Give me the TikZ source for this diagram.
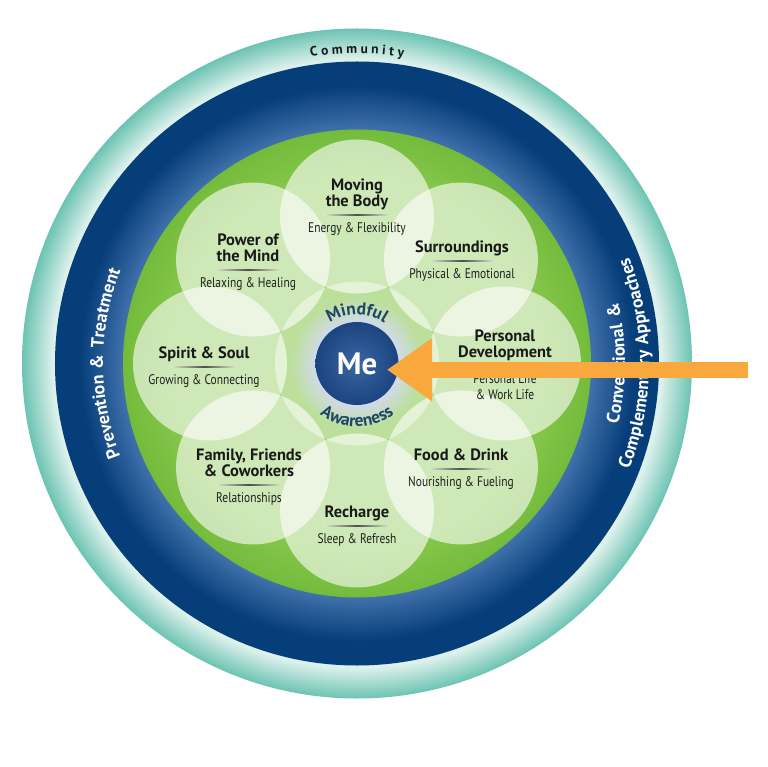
\documentclass[tikz,border=0pt]{standalone}
\usepackage{fontspec}
\setmainfont{PT Sans}
\newfontfamily\subfont[FakeStretch=0.82]{PT Sans}
\usetikzlibrary{arrows.meta,decorations.text,fadings}
\definecolor{tealout}{HTML}{6CC3B3}
\definecolor{tealin}{HTML}{DDF1EC}
\definecolor{blueout}{HTML}{063E7A}
\definecolor{bluein}{HTML}{3F70AA}
\definecolor{greenin}{HTML}{86C74B}
\definecolor{greenout}{HTML}{74BB3C}
\definecolor{mein}{HTML}{3A66A2}
\definecolor{meout}{HTML}{1B4480}
\definecolor{haloc}{HTML}{D3DAEE}
\definecolor{mindc}{HTML}{1E4764}
\definecolor{rulebg}{HTML}{DAEBC8}
\definecolor{arrc}{HTML}{F8A83C}
\pgfdeclareradialshading{tealring}{\pgfpointorigin}{color(0bp)=(tealin); color(22.7bp)=(tealin); color(25bp)=(tealout); color(50bp)=(tealout)}
\pgfdeclareradialshading{bluering}{\pgfpointorigin}{color(0bp)=(bluein); color(19.4bp)=(bluein); color(23bp)=(blueout); color(50bp)=(blueout)}
\pgfdeclareradialshading{greendisk}{\pgfpointorigin}{color(0bp)=(greenin); color(20bp)=(greenin); color(25bp)=(greenout); color(50bp)=(greenout)}
\pgfdeclareradialshading{medisk}{\pgfpointorigin}{color(0bp)=(mein); color(25bp)=(meout); color(50bp)=(meout)}
\pgfdeclareradialshading{haloshade}{\pgfpointorigin}{color(0bp)=(white); color(15bp)=(white); color(25bp)=(black); color(50bp)=(black)}
\pgfdeclarefading{mehalo}{\pgfuseshading{haloshade}}
\tikzset{
  petal/.style={circle, minimum size=154bp, inner sep=0pt, fill=white, fill opacity=0.6},
  mecirc/.style={circle, minimum size=83bp, inner sep=0pt, shading=medisk, text=white,
    font=\bfseries\fontsize{31}{31}\selectfont},
  ptitle/.style={align=center, inner sep=0pt, text=black!90, font=\bfseries\fontsize{16.5}{15.5}\selectfont,
    execute at end node={\vphantom{g}}},
  psub/.style={align=center, inner sep=0pt, text=black!88, font=\subfont\fontsize{14}{16.5}\selectfont,
    execute at begin node={\vphantom{l}}},
  arr/.style={-{Triangle[length=45bp, width=60bp]}, line width=15.5bp, draw=arrc},
  ringtxt/.style={decorate, decoration={text along path, text align=center, text color=white}},
}
\begin{document}
\begin{tikzpicture}[x=1bp, y=1bp]
  \useasboundingbox (-357,-403.5) rectangle (411,363.5);
  \fill[white] (-357,-403.5) rectangle (411,363.5);
  \coordinate (c) at (0,0);
  % rings
  \shade[shading=tealring] (c) circle[radius=335];
  \shade[shading=bluering] (c) circle[radius=302];
  \shade[shading=greendisk] (c) circle[radius=234];
  % flower
  \fill[white, fill opacity=0.45] (c) circle[radius=82];
  \foreach \a in {0,45,...,315}
    \node[petal] (p\a) at (\a:147) {};
  \fill[haloc, path fading=mehalo] (c) circle[radius=66];
  \node[mecirc] (me) at (c) {Me};
  \path[decorate, decoration={text along path, text align=center, text color=mindc,
    text={|\bfseries\fontsize{17.5}{17.5}\selectfont\addfontfeature{LetterSpace=10}|Mindful}}]
    (170:49) arc[start angle=170, end angle=10, radius=49];
  \path[decorate, decoration={text along path, text align=center, text color=mindc,
    text={|\bfseries\fontsize{17.5}{17.5}\selectfont\addfontfeature{LetterSpace=12}|Awareness}}]
    (190:63) arc[start angle=190, end angle=350, radius=63];
  % petal labels
  \foreach \lx/\ly/\ttl/\sub [count=\i] in {
      0/148.5/{Moving\\the Body}/{Energy \& Flexibility},
      -109/93.5/{Power of\\the Mind}/{Relaxing \& Healing},
      105/102.5/{Surroundings}/{Physical \& Emotional},
      -153/-3.5/{Spirit \& Soul}/{Growing \& Connecting},
      148/-2.5/{Personal\\Development}/{Personal Life\\\& Work Life},
      104/-105.5/{Food \& Drink}/{Nourishing \& Fueling},
      0/-162.5/{Recharge}/{Sleep \& Refresh},
      -108/-121.5/{Family, Friends\\\& Coworkers}/{Relationships}} {
    \node[ptitle, anchor=south] (t\i) at (\lx, {\ly+5}) {\ttl};
    \shade[left color=rulebg, right color=rulebg, middle color=black!70]
      ({\lx-33},{\ly-0.6}) rectangle ({\lx+33},{\ly+0.6});
    \node[psub, anchor=north] (s\i) at (\lx, {\ly-7}) {\sub};
  }
  % ring texts
  \path[decorate, decoration={text along path, text align=center, text color=black!90,
    text={|\bfseries\fontsize{13.5}{13.5}\selectfont|C o m m u n i t y}}]
    (115:310) arc[start angle=115, end angle=65, radius=310];
  \path[ringtxt, decoration={text={|\bfseries\fontsize{18}{18}\selectfont\addfontfeature{LetterSpace=6}|Prevention {\&} Treatment}}]
    (225:254) arc[start angle=225, end angle=135, radius=254];
  \path[ringtxt, decoration={text={|\bfseries\fontsize{18}{18}\selectfont\addfontfeature{LetterSpace=10}|Conventional {\&}}}]
    (-45:268) arc[start angle=-45, end angle=45, radius=268];
  \path[ringtxt, decoration={text={|\bfseries\fontsize{18}{18}\selectfont\addfontfeature{LetterSpace=10}|Complementary Approaches}}]
    (-45:292) arc[start angle=-45, end angle=45, radius=292];
  % arrow
  \coordinate (atail) at (391,-6.25);
  \coordinate (atip) at (30,-6.25);
  \draw[arr] (atail) -- (atip);
\end{tikzpicture}
\end{document}
